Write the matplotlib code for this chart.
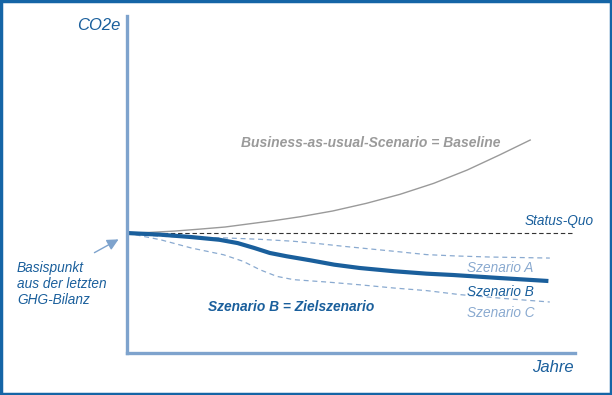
import matplotlib
matplotlib.use("Agg")
import matplotlib.pyplot as plt
from matplotlib.patches import Rectangle

plt.rcParams['font.family'] = ['Liberation Sans', 'DejaVu Sans']

# Jahre (Index) und CO2e-Werte (Basispunkt = 100)
jahre_baseline = [0, 1.6, 3.4, 5.2, 7.0, 10.6, 12.4, 14.7, 17.1, 19.5, 21.9, 24.3, 26.6, 28.8]
co2_baseline = [100, 100.4, 101.3, 102.6, 104.0, 108.4, 110.9, 114.7, 119.8, 125.8, 133.1, 142, 152, 162]

jahre_status = [0, 32]
co2_status = [100, 100]

jahre_a = [0, 1.0, 2.4, 4.5, 7.1, 9.5, 11.9, 13.7, 15.5, 19.1, 21.4, 23.5, 25.9, 30.2]
co2_a = [100, 98.9, 97.8, 97.2, 96.7, 95.8, 94.5, 92.9, 91.1, 87.8, 85.6, 84.7, 84.0, 83.3]

jahre_b = [0, 2.4, 4.6, 6.6, 7.9, 9.1, 10.2, 11.4, 13.1, 14.8, 16.6, 19.1, 21.4, 23.3, 26.6, 30.1]
co2_b = [100, 98.9, 97.3, 95.5, 93.3, 90, 86.7, 84.5, 81.8, 78.9, 76.7, 74.5, 72.9, 72, 70, 68]

jahre_c = [0, 1.2, 2.4, 4.6, 6.9, 8.3, 9.5, 10.7, 11.9, 14.3, 16.6, 19.1, 21.4, 23.8, 27.0, 30.2]
co2_c = [100, 97.7, 95.5, 90, 85.5, 81.1, 75.5, 71.1, 68.9, 67.3, 65.5, 63.3, 61.6, 58.9, 56.3, 54]

DUNKELBLAU = '#1a5f9c'
HELLBLAU = '#8aaad0'
ACHSE = '#7ea3cd'
GRAU = '#9a9a9a'

W, H = 612, 395
fig = plt.figure(figsize=(W / 100, H / 100), dpi=100)

# Achsenbereich: links 127px, unten 353px, rechts 575px, oben 16px
ax = fig.add_axes([127 / W, (H - 353) / H, (575 - 127) / W, (353 - 16) / H])
ax.set_xlim(0, 32)
ax.set_ylim(20, 244.7)

ax.plot(jahre_baseline, co2_baseline, color=GRAU, lw=1.0)
ax.plot(jahre_status, co2_status, color='#333333', lw=0.8, ls=(0, (4, 2.5)))
ax.plot(jahre_a, co2_a, color=HELLBLAU, lw=0.9, ls=(0, (4, 3)))
ax.plot(jahre_c, co2_c, color=HELLBLAU, lw=0.9, ls=(0, (4, 3)))
ax.plot(jahre_b, co2_b, color=DUNKELBLAU, lw=3.0, solid_capstyle='butt', solid_joinstyle='round')

for s in ['top', 'right']:
    ax.spines[s].set_visible(False)
for s in ['left', 'bottom']:
    ax.spines[s].set_color(ACHSE)
    ax.spines[s].set_linewidth(2.4)
ax.set_xticks([])
ax.set_yticks([])
ax.patch.set_alpha(0)

def px(x, y):
    return x / W, (H - y) / H

kw = dict(style='italic')
fig.text(*px(120, 26), 'CO2e', ha='right', va='center', size=12, color=DUNKELBLAU, **kw)
fig.text(*px(574, 367), 'Jahre', ha='right', va='center', size=12, color=DUNKELBLAU, **kw)
fig.text(*px(594, 221), 'Status-Quo', ha='right', va='center', size=9.8, color=DUNKELBLAU, **kw)
fig.text(*px(371, 143), 'Business-as-usual-Scenario = Baseline', ha='center', va='center',
         size=10, color=GRAU, weight='bold', **kw)
fig.text(*px(467, 268), 'Szenario A', ha='left', va='center', size=9.8, color=HELLBLAU, **kw)
fig.text(*px(467, 292), 'Szenario B', ha='left', va='center', size=9.8, color=DUNKELBLAU, **kw)
fig.text(*px(467, 313), 'Szenario C', ha='left', va='center', size=9.8, color=HELLBLAU, **kw)
fig.text(*px(208, 307), 'Szenario B = Zielszenario', ha='left', va='center',
         size=9.9, color=DUNKELBLAU, weight='bold', **kw)
fig.text(*px(17, 284), 'Basispunkt\naus der letzten\nGHG-Bilanz', ha='left', va='center',
         size=9.8, color=DUNKELBLAU, linespacing=1.2, **kw)

ax.annotate('', xy=px(121, 238), xycoords='figure fraction',
            xytext=px(92, 254), textcoords='figure fraction',
            arrowprops=dict(arrowstyle='-|>', color=ACHSE, lw=1.0, mutation_scale=17))

# Rahmen
fig.patches.append(Rectangle((0.002, 0.003), 0.996, 0.994, transform=fig.transFigure,
                             fill=False, edgecolor='#1565a6', lw=2.5, figure=fig))

fig.savefig('out.png', dpi=100)
